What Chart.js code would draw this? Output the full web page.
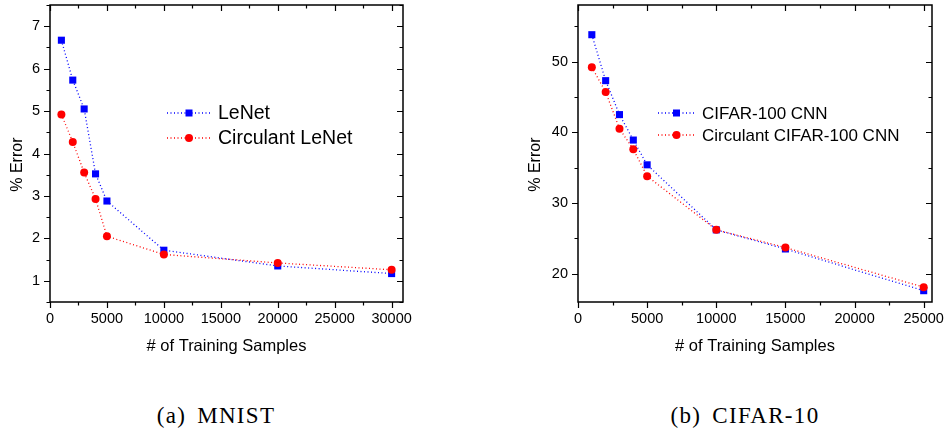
<!DOCTYPE html>
<html>
<head>
<meta charset="utf-8">
<script src="https://cdn.jsdelivr.net/npm/chart.js@4/dist/chart.umd.min.js"></script>
<style>
  html, body { margin: 0; padding: 0; background: #fff; }
  body { width: 948px; height: 434px; position: relative; overflow: hidden; }
  .plot { position: absolute; top: 0; }
  #boxA { left: 0; width: 440px; height: 370px; }
  #boxB { left: 480px; width: 468px; height: 370px; }
  .caption {
    position: absolute; top: 403px; width: 300px; text-align: center;
    font-family: "Liberation Serif", serif; font-size: 23px; letter-spacing: 1.3px;
    word-spacing: 4px; color: #000;
  }
</style>
</head>
<body>
<div class="plot" id="boxA"><canvas id="chartA"></canvas></div>
<div class="plot" id="boxB"><canvas id="chartB"></canvas></div>
<div class="caption" style="left:66px">(a) MNIST</div>
<div class="caption" style="left:595px">(b) CIFAR-10</div>

<script>
// ==================== DATOS ====================
const mnistSamples = [1000, 2000, 3000, 4000, 5000, 10000, 20000, 30000];
const lenetErr = [6.67, 5.73, 5.05, 3.52, 2.88, 1.72, 1.35, 1.17];
const circLenetErr = [4.92, 4.27, 3.55, 2.93, 2.05, 1.62, 1.42, 1.26];
const mnistXTicks = [0, 5000, 10000, 15000, 20000, 25000, 30000];
const mnistYTicks = [1, 2, 3, 4, 5, 6, 7];

const cifarSamples = [1000, 2000, 3000, 4000, 5000, 10000, 15000, 25000];
const cifarErr = [53.8, 47.3, 42.5, 38.9, 35.4, 26.2, 23.5, 17.6];
const circCifarErr = [49.2, 45.7, 40.5, 37.6, 33.8, 26.2, 23.7, 18.1];
const cifarXTicks = [0, 5000, 10000, 15000, 20000, 25000];
const cifarYTicks = [20, 30, 40, 50];

const BLUE = '#0000ff';
const RED = '#ff0000';
const TICK_FONT = { family: 'Liberation Sans, Arial, sans-serif', size: 14.5 };
const TITLE_FONT = { family: 'Liberation Sans, Arial, sans-serif', size: 16.5 };

// ==================== PLUGIN: marco y ticks ====================
const frameTicks = {
  id: 'frameTicks',
  afterDraw(chart) {
    const { ctx, chartArea: a, scales: { x, y } } = chart;
    ctx.save();
    ctx.strokeStyle = '#000';
    ctx.lineWidth = 1.5;
    ctx.strokeRect(a.left, a.top, a.right - a.left, a.bottom - a.top);
    ctx.lineWidth = 1.2;

    const drawSet = (scale, horiz) => {
      const vals = scale.ticks.map(t => t.value);
      const step = vals[1] - vals[0];
      const minors = [];
      for (let v = vals[0] - step / 2; v <= scale.max; v += step) {
        if (v >= scale.min) minors.push(v);
      }
      const marks = vals.map(v => [v, 6]).concat(minors.map(v => [v, 3.5]));
      marks.forEach(([v, len]) => {
        const p = Math.round(scale.getPixelForValue(v)) + 0.5;
        ctx.beginPath();
        if (horiz) {
          ctx.moveTo(p, a.bottom); ctx.lineTo(p, a.bottom + len);
          ctx.moveTo(p, a.top); ctx.lineTo(p, a.top + len);
        } else {
          ctx.moveTo(a.left, p); ctx.lineTo(a.left - len, p);
          ctx.moveTo(a.right, p); ctx.lineTo(a.right - len, p);
        }
        ctx.stroke();
      });
    };
    drawSet(x, true);
    drawSet(y, false);
    ctx.restore();
  }
};

// ==================== PLUGIN: leyenda ====================
function drawMarker(ctx, style, cx, cy, color) {
  ctx.fillStyle = color;
  ctx.beginPath();
  if (style === 'rect') ctx.rect(cx - 3.5, cy - 3.5, 7, 7);
  else ctx.arc(cx, cy, 4, 0, Math.PI * 2);
  ctx.fill();
}

const innerLegend = {
  id: 'innerLegend',
  afterDraw(chart, args, opts) {
    const { ctx, chartArea: a } = chart;
    ctx.save();
    chart.data.datasets.forEach((ds, i) => {
      const yy = opts.top + i * opts.rowH;
      const x0 = a.left + opts.left;
      ctx.strokeStyle = ds.borderColor;
      ctx.lineWidth = 1.3;
      ctx.setLineDash(ds.borderDash);
      ctx.beginPath();
      ctx.moveTo(x0, yy); ctx.lineTo(x0 + opts.lineLen, yy);
      ctx.stroke();
      ctx.setLineDash([]);
      drawMarker(ctx, ds.pointStyle, x0 + opts.lineLen / 2, yy, ds.pointBackgroundColor);
      ctx.fillStyle = '#000';
      ctx.font = opts.fontSize + 'px Liberation Sans, Arial, sans-serif';
      ctx.textBaseline = 'middle';
      ctx.fillText(ds.label, x0 + opts.lineLen + opts.gap, yy + 1);
    });
    ctx.restore();
  }
};

// ==================== GRÁFICOS ====================
function makeSeries(label, data, xs, color, style, radius, order) {
  return {
    label,
    data: xs.map((v, i) => ({ x: v, y: data[i] })),
    borderColor: color,
    backgroundColor: color,
    pointBackgroundColor: color,
    pointBorderWidth: 0,
    borderWidth: 1.3,
    borderDash: [1, 2.5],
    pointStyle: style,
    pointRadius: radius,
    order
  };
}

function makeChart(id, series, xTicks, yTicks, xMax, yMin, yMax, yWidth, padRight, yTitlePad, legend) {
  return new Chart(document.getElementById(id), {
    type: 'line',
    data: { datasets: series },
    options: {
      responsive: true,
      maintainAspectRatio: false,
      animation: false,
      layout: { padding: { top: 5, right: padRight, left: 0, bottom: 0 } },
      plugins: { legend: { display: false }, tooltip: { enabled: false }, innerLegend: legend },
      scales: {
        x: {
          type: 'linear', min: 0, max: xMax,
          grid: { display: false, drawTicks: false, tickLength: 0 },
          border: { display: false },
          afterBuildTicks: s => { s.ticks = xTicks.map(v => ({ value: v })); },
          afterFit: s => { s.height = 68; s.paddingLeft = 0; s.paddingRight = 0; },
          ticks: { font: TICK_FONT, color: '#000', padding: 8, maxRotation: 0, callback: v => String(v) },
          title: { display: true, text: '# of Training Samples', font: TITLE_FONT, color: '#000', padding: { top: 4, bottom: 14 } }
        },
        y: {
          min: yMin, max: yMax,
          grid: { display: false, drawTicks: false, tickLength: 0 },
          border: { display: false },
          afterBuildTicks: s => { s.ticks = yTicks.map(v => ({ value: v })); },
          afterFit: s => { s.width = yWidth; s.paddingTop = 0; s.paddingBottom = 0; },
          ticks: { font: TICK_FONT, color: '#000', padding: 10, callback: v => String(v) },
          title: { display: true, text: '% Error     ', font: { family: TITLE_FONT.family, size: 16 }, color: '#000', padding: { top: yTitlePad, bottom: 0 } }
        }
      }
    },
    plugins: [frameTicks, innerLegend]
  });
}

makeChart('chartA', [
  makeSeries('LeNet', lenetErr, mnistSamples, BLUE, 'rect', 5, 1),
  makeSeries('Circulant LeNet', circLenetErr, mnistSamples, RED, 'circle', 4, 0)
], mnistXTicks, mnistYTicks, 31000, 0.5, 7.5, 50, 37, 8,
  { top: 113, rowH: 25, left: 117, lineLen: 44, gap: 7, fontSize: 19.5 });

makeChart('chartB', [
  makeSeries('CIFAR-100 CNN', cifarErr, cifarSamples, BLUE, 'rect', 5, 1),
  makeSeries('Circulant CIFAR-100 CNN', circCifarErr, cifarSamples, RED, 'circle', 4, 0)
], cifarXTicks, cifarYTicks, 25600, 16, 58, 98, 16, 46,
  { top: 113, rowH: 22, left: 80, lineLen: 37, gap: 7, fontSize: 17 });
</script>
</body>
</html>
